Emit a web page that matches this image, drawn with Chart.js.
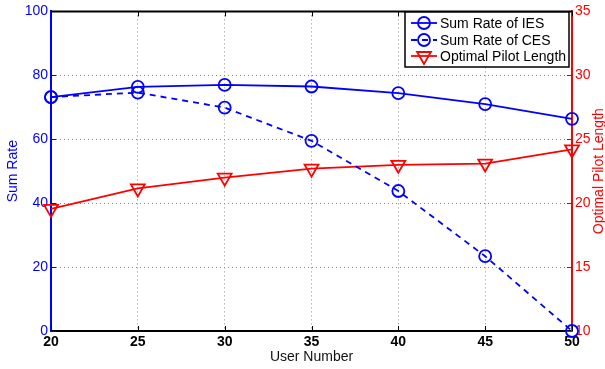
<!DOCTYPE html>
<html>
<head>
<meta charset="utf-8">
<script src="https://cdn.jsdelivr.net/npm/chart.js@4.4.0/dist/chart.umd.min.js"></script>
<style>
    html, body { margin: 0; padding: 0; background: #fff; }
    #wrap { width: 605px; height: 369px; }
</style>
</head>
<body>
<div id="wrap"><canvas id="myChart" width="605" height="369"></canvas></div>
<script>
// data
const userNumber = [20, 25, 30, 35, 40, 45, 50];
const sumRateIES = [73.2, 76.4, 77.0, 76.5, 74.4, 71.0, 66.4];
const sumRateCES = [73.2, 74.6, 69.9, 59.5, 43.8, 23.4, 0];
const pilotLength = [19.55, 21.15, 22.0, 22.7, 23.0, 23.1, 24.2];
const seriesLabels = ['Sum Rate of IES', 'Sum Rate of CES', 'Optimal Pilot Length'];
const xTitle = 'User Number';
const yTitle = 'Sum Rate';
const y1Title = 'Optimal Pilot Length';

const FONT = '"Liberation Sans", Arial, Helvetica, sans-serif';
const BLUE = '#0000ff', RED = '#ff0000';

function toPoints(ys) {
    return userNumber.map((u, i) => ({ x: u, y: ys[i] }));
}

// inward tick marks, top frame line, right title (bottom-to-top)
const framePlugin = {
    id: 'frame',
    beforeDatasetsDraw(chart) {
        const ctx = chart.ctx;
        const a = chart.chartArea;
        const sx = chart.scales.x, sy = chart.scales.y, sy1 = chart.scales.y1;
        ctx.save();
        ctx.lineWidth = 1;
        ctx.strokeStyle = '#000';
        userNumber.forEach(u => {
            const px = Math.round(sx.getPixelForValue(u)) + 0.5;
            ctx.beginPath();
            ctx.moveTo(px, a.bottom); ctx.lineTo(px, a.bottom - 5);
            ctx.moveTo(px, a.top); ctx.lineTo(px, a.top + 5);
            ctx.stroke();
        });
        ctx.strokeStyle = BLUE;
        for (let v = 0; v <= 100; v += 20) {
            const py = Math.round(sy.getPixelForValue(v)) + 0.5;
            ctx.beginPath(); ctx.moveTo(a.left, py); ctx.lineTo(a.left + 5, py); ctx.stroke();
        }
        ctx.strokeStyle = '#c00030';
        for (let v = 10; v <= 35; v += 5) {
            const py = Math.round(sy1.getPixelForValue(v)) + 0.5;
            ctx.beginPath(); ctx.moveTo(a.right, py); ctx.lineTo(a.right - 5, py); ctx.stroke();
        }
        // top frame
        ctx.strokeStyle = '#000';
        ctx.lineWidth = 2;
        ctx.beginPath(); ctx.moveTo(a.left, a.top); ctx.lineTo(a.right, a.top); ctx.stroke();
        ctx.restore();
    },
    afterDraw(chart) {
        const ctx = chart.ctx;
        const a = chart.chartArea;
        ctx.save();
        ctx.translate(599, (a.top + a.bottom) / 2);
        ctx.rotate(-Math.PI / 2);
        ctx.fillStyle = RED;
        ctx.font = '14px ' + FONT;
        ctx.textAlign = 'center';
        ctx.textBaseline = 'middle';
        ctx.fillText(y1Title, 0, 0);
        ctx.restore();
    }
};

function drawMarker(ctx, style, x, y, r) {
    ctx.beginPath();
    if (style === 'circle') {
        ctx.arc(x, y, r, 0, Math.PI * 2);
    } else {
        // downward triangle, centroid at (x, y)
        const h = r * Math.sqrt(3) / 2;
        ctx.moveTo(x, y + r);
        ctx.lineTo(x - h, y - r / 2);
        ctx.lineTo(x + h, y - r / 2);
        ctx.closePath();
    }
    ctx.stroke();
}

// boxed legend in the upper right corner
const legendBox = {
    id: 'legendBox',
    afterDraw(chart) {
        const ctx = chart.ctx;
        const bx = 405, by = 12, bw = 164, bh = 55;
        ctx.save();
        ctx.fillStyle = '#fff';
        ctx.fillRect(bx, by, bw, bh);
        ctx.strokeStyle = '#000';
        ctx.lineWidth = 1.5;
        ctx.strokeRect(bx, by, bw, bh);
        const rows = [23, 40, 56];
        chart.data.datasets.forEach((ds, i) => {
            const y = rows[i];
            ctx.strokeStyle = ds.borderColor;
            ctx.lineWidth = ds.borderWidth;
            ctx.setLineDash(ds.borderDash || []);
            ctx.beginPath(); ctx.moveTo(411, y); ctx.lineTo(437, y); ctx.stroke();
            ctx.setLineDash([]);
            ctx.lineWidth = ds.pointBorderWidth;
            drawMarker(ctx, ds.pointStyle, 424, y, ds.pointRadius);
            ctx.fillStyle = '#000';
            ctx.font = '14px ' + FONT;
            ctx.textAlign = 'left';
            ctx.textBaseline = 'middle';
            ctx.fillText(ds.label, 440, y + 1);
        });
        ctx.restore();
    }
};

const ctx = document.getElementById('myChart').getContext('2d');
const chart = new Chart(ctx, {
    type: 'line',
    data: {
        datasets: [
            {
                label: seriesLabels[0],
                data: toPoints(sumRateIES),
                yAxisID: 'y',
                borderColor: BLUE,
                borderWidth: 1.8,
                pointStyle: 'circle',
                pointRadius: 6,
                pointBorderWidth: 1.8,
                pointBorderColor: BLUE,
                pointBackgroundColor: 'rgba(0,0,0,0)',
                fill: false,
                clip: false,
            },
            {
                label: seriesLabels[1],
                data: toPoints(sumRateCES),
                yAxisID: 'y',
                borderColor: BLUE,
                borderWidth: 1.8,
                borderDash: [6, 5],
                pointStyle: 'circle',
                pointRadius: 6,
                pointBorderWidth: 1.8,
                pointBorderColor: BLUE,
                pointBackgroundColor: 'rgba(0,0,0,0)',
                fill: false,
                clip: false,
            },
            {
                label: seriesLabels[2],
                data: toPoints(pilotLength),
                yAxisID: 'y1',
                borderColor: RED,
                borderWidth: 1.8,
                pointStyle: 'triangle',
                pointRotation: 180,
                pointRadius: 8,
                pointBorderWidth: 1.8,
                pointBorderColor: RED,
                pointBackgroundColor: 'rgba(0,0,0,0)',
                fill: false,
                clip: false,
            },
        ],
    },
    options: {
        responsive: false,
        animation: false,
        devicePixelRatio: 1,
        layout: { padding: { left: 5, top: 9, right: 0, bottom: 3 } },
        plugins: {
            legend: { display: false },
            tooltip: { enabled: false },
        },
        elements: { line: { tension: 0 } },
        scales: {
            x: {
                type: 'linear',
                min: 20,
                max: 50,
                afterFit: (s) => { s.height = 35; },
                ticks: {
                    stepSize: 5,
                    color: '#000',
                    padding: 3,
                    font: { family: FONT, size: 14, weight: 'bold' },
                },
                grid: { color: '#909090', lineWidth: 1, drawTicks: false },
                border: { color: '#000', width: 2, dash: [1, 3] },
                title: {
                    display: true,
                    text: xTitle,
                    color: '#111',
                    padding: 0,
                    font: { family: FONT, size: 14 },
                },
            },
            y: {
                position: 'left',
                min: 0,
                max: 100,
                afterFit: (s) => { s.width = 46; },
                ticks: {
                    stepSize: 20,
                    color: BLUE,
                    padding: 3,
                    font: { family: FONT, size: 14 },
                },
                grid: { color: '#7878ff', lineWidth: 1, drawTicks: false },
                border: { color: BLUE, width: 2, dash: [1, 3] },
                title: {
                    display: true,
                    text: yTitle,
                    color: BLUE,
                    padding: 0,
                    font: { family: FONT, size: 14 },
                },
            },
            y1: {
                position: 'right',
                min: 10,
                max: 35,
                afterFit: (s) => { s.width = 33; },
                ticks: {
                    stepSize: 5,
                    color: RED,
                    padding: 3,
                    font: { family: FONT, size: 14 },
                },
                grid: { drawOnChartArea: false, drawTicks: false },
                border: { color: RED, width: 2 },
            },
        },
    },
    plugins: [framePlugin, legendBox],
});
</script>
</body>
</html>
